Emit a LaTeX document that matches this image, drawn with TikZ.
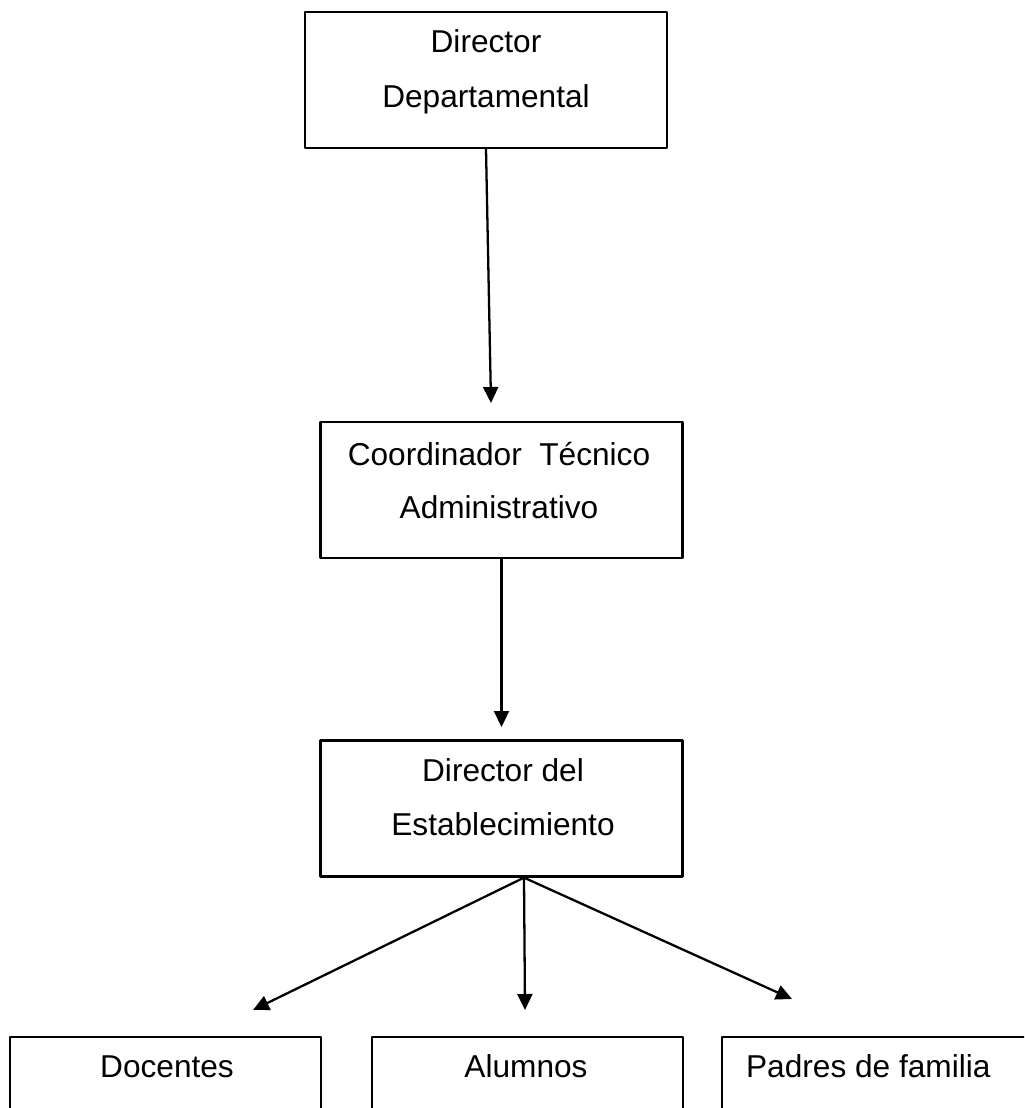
\documentclass[tikz,border=0pt]{standalone}
\usepackage{fontspec}
\setmainfont{Liberation Sans}
\usetikzlibrary{arrows.meta}

\begin{document}
\begin{tikzpicture}[x=0.02cm, y=-0.02cm, font=\fontsize{18}{22}\selectfont,
			line width=1.3pt, line join=round,
			>={Triangle[length=0.32cm,width=0.3cm]},
			box/.style={draw, minimum width=7.24cm, minimum height=2.72cm, inner sep=0pt},
			small box/.style={box, minimum width=6.22cm},
			txt/.style={anchor=base, inner sep=0pt}]
			\clip (0,0) rectangle (1024,1108);
			% cajas
			\node[box] (DD) at (486,80) {};
			\node[box] (CT) at (501.5,490) {};
			\node[box] (DE) at (501.5,808.5) {};
			\node[small box] (Do) at (165.5,1105) {};
			\node[small box] (Al) at (527.5,1105) {};
			\node[small box] (Pa) at (877.5,1105) {};
			% textos
			\foreach \n/\x/\y/\t in {DD1/486/53/Director, DD2/486/108/Departamental,
				CT1/499/465/Coordinador\ \ Técnico, CT2/499/518/Administrativo,
				DE1/503/781/Director del, DE2/503/835/Establecimiento,
				Do1/167/1077/Docentes, Al1/526/1077/Alumnos}
			\node[txt] (\n) at (\x,\y) {\t};
			\node[txt, anchor=base west] (Pa1) at (745,1077) {Padres de familia};
			% flechas
			\path (491,403) coordinate (a1)
			(501.5,727) coordinate (a2)
			(253,1010) coordinate (b1)
			(525,1010) coordinate (b2)
			(792,999) coordinate (b3)
			;
			\draw[->] (DD.south) -- (a1);
			\draw[->] (CT.south) -- (a2);
			\foreach \b in {b1,b2,b3}
			\draw[->] ([xshift=0.45cm]DE.south) -- (\b);
		\end{tikzpicture}
\end{document}
